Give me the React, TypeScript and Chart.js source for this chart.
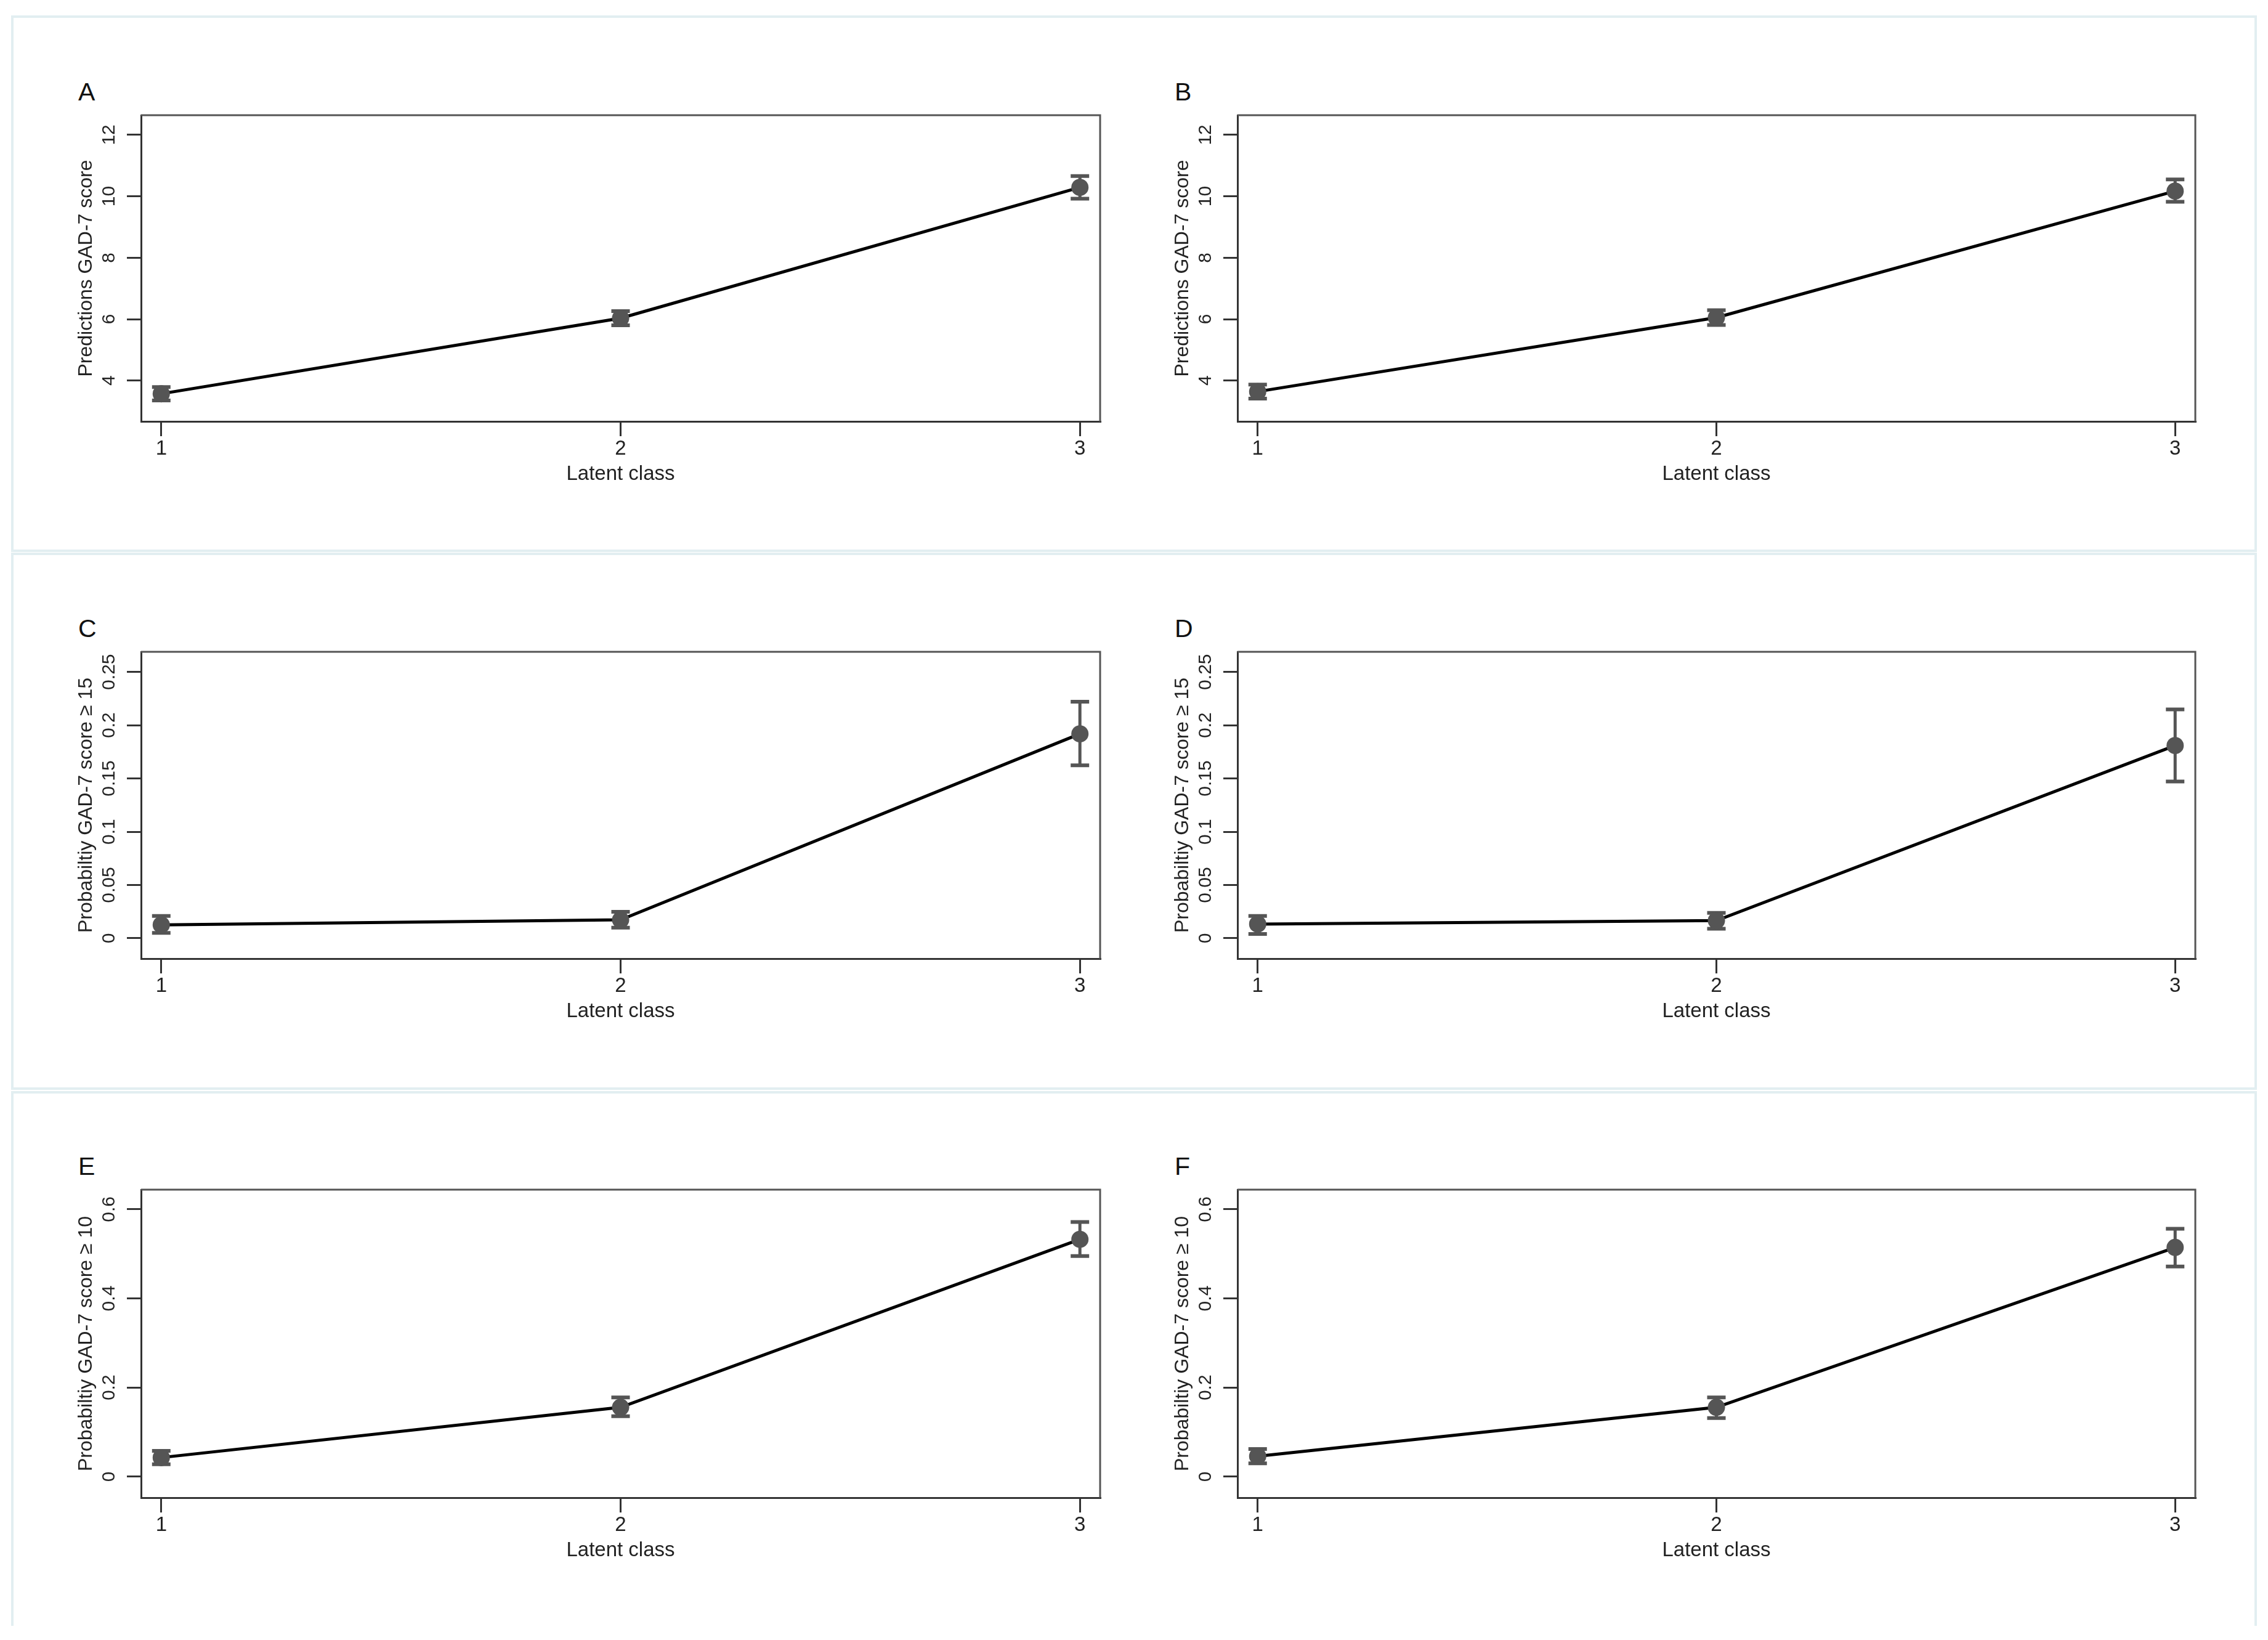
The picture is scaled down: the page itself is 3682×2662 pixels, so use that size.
import { useEffect, useRef } from "react";
import Chart from "chart.js/auto";

// latent classes on the x axis
const latentClass = [1, 2, 3];

// A / B: predicted GAD-7 score with 95% CI
const scoreA = [3.57, 6.03, 10.29];
const scoreLowA = [3.35, 5.8, 9.92];
const scoreHighA = [3.79, 6.26, 10.66];

const scoreB = [3.64, 6.05, 10.17];
const scoreLowB = [3.41, 5.81, 9.82];
const scoreHighB = [3.87, 6.29, 10.55];

// C / D: probability GAD-7 score >= 15
const prob15C = [0.0126, 0.0173, 0.1919];
const prob15LowC = [0.005, 0.01, 0.1624];
const prob15HighC = [0.0209, 0.0249, 0.2221];

const prob15D = [0.0133, 0.0166, 0.1809];
const prob15LowD = [0.004, 0.009, 0.1471];
const prob15HighD = [0.0209, 0.0239, 0.2148];

// E / F: probability GAD-7 score >= 10
const prob10E = [0.0429, 0.1556, 0.5325];
const prob10LowE = [0.028, 0.1357, 0.4952];
const prob10HighE = [0.058, 0.1778, 0.5714];

const prob10F = [0.046, 0.1556, 0.5143];
const prob10LowF = [0.03, 0.1317, 0.4714];
const prob10HighF = [0.062, 0.1778, 0.5563];

// y tick labels
const scoreTicks = [4, 6, 8, 10, 12];
const prob15Ticks = [0, 0.05, 0.1, 0.15, 0.2, 0.25];
const prob10Ticks = [0, 0.2, 0.4, 0.6];

const FONT = "'Liberation Sans', Arial, sans-serif";

// plot-area edges in page pixels
const COLS = [
    { left: 229, right: 1786 },
    { left: 2009, right: 3564 },
];
const ROWS = [
    { top: 187, bottom: 684 },
    { top: 1058, bottom: 1556 },
    { top: 1931, bottom: 2431 },
];

const AXIS_W = 130;
const XAXIS_H = 120;
const PAD_TOP = 80;
const PAD_RIGHT = 40;
const Y_TICK_LEN = 23;
const Y_TICK_SIZE = 30;

interface PanelSpec {
    letter: string;
    yTitle: string;
    values: number[];
    low: number[];
    high: number[];
    ticks: number[];
    min: number;
    max: number;
    col: number;
    row: number;
}

const panels: PanelSpec[] = [
    { letter: "A", yTitle: "Predictions GAD-7 score", values: scoreA, low: scoreLowA, high: scoreHighA, ticks: scoreTicks, min: 2.67, max: 12.64, col: 0, row: 0 },
    { letter: "B", yTitle: "Predictions GAD-7 score", values: scoreB, low: scoreLowB, high: scoreHighB, ticks: scoreTicks, min: 2.67, max: 12.64, col: 1, row: 0 },
    { letter: "C", yTitle: "Probabiltiy GAD-7 score \u2265 15", values: prob15C, low: prob15LowC, high: prob15HighC, ticks: prob15Ticks, min: -0.0191, max: 0.2689, col: 0, row: 1 },
    { letter: "D", yTitle: "Probabiltiy GAD-7 score \u2265 15", values: prob15D, low: prob15LowD, high: prob15HighD, ticks: prob15Ticks, min: -0.0191, max: 0.2689, col: 1, row: 1 },
    { letter: "E", yTitle: "Probabiltiy GAD-7 score \u2265 10", values: prob10E, low: prob10LowE, high: prob10HighE, ticks: prob10Ticks, min: -0.0471, max: 0.644, col: 0, row: 2 },
    { letter: "F", yTitle: "Probabiltiy GAD-7 score \u2265 10", values: prob10F, low: prob10LowF, high: prob10HighF, ticks: prob10Ticks, min: -0.0471, max: 0.644, col: 1, row: 2 },
];

// CI whiskers with caps, placed through the chart's scales
const errorBars = {
    id: "errorBars",
    beforeDatasetsDraw(chart: any, _args: any, opts: any) {
        const { ctx, scales } = chart;
        const low: number[] = opts.low;
        const high: number[] = opts.high;
        ctx.save();
        ctx.strokeStyle = "#555555";
        latentClass.forEach((c, i) => {
            const px = scales.x.getPixelForValue(c);
            const top = scales.y.getPixelForValue(high[i]);
            const bot = scales.y.getPixelForValue(low[i]);
            ctx.lineWidth = 5;
            ctx.beginPath();
            ctx.moveTo(px, top);
            ctx.lineTo(px, bot);
            ctx.stroke();
            ctx.lineWidth = 6;
            ctx.beginPath();
            ctx.moveTo(px - 15, top);
            ctx.lineTo(px + 15, top);
            ctx.moveTo(px - 15, bot);
            ctx.lineTo(px + 15, bot);
            ctx.stroke();
        });
        ctx.restore();
    },
};

// top and right edges of the plot region
const frame = {
    id: "frame",
    afterDraw(chart: any) {
        const { ctx, chartArea } = chart;
        ctx.save();
        ctx.strokeStyle = "#555555";
        ctx.lineWidth = 3;
        ctx.beginPath();
        ctx.moveTo(chartArea.left, chartArea.top);
        ctx.lineTo(chartArea.right, chartArea.top);
        ctx.lineTo(chartArea.right, chartArea.bottom);
        ctx.stroke();
        ctx.restore();
    },
};

function measureWidest(labels: string[], font: string) {
    const ctx = document.createElement("canvas").getContext("2d");
    if (!ctx) return 0;
    ctx.font = font;
    return Math.max(...labels.map((l) => ctx.measureText(l).width));
}

function Panel({ p }: { p: PanelSpec }) {
    const canvasRef = useRef<HTMLCanvasElement | null>(null);
    const chartRef = useRef<Chart | null>(null);

    const col = COLS[p.col];
    const row = ROWS[p.row];
    const boxLeft = col.left - AXIS_W;
    const boxTop = row.top - PAD_TOP;
    const boxW = col.right - col.left + AXIS_W + PAD_RIGHT;
    const boxH = row.bottom - row.top + PAD_TOP + XAXIS_H;

    useEffect(() => {
        if (!canvasRef.current) return;
        if (chartRef.current) { chartRef.current.destroy(); }

        const widest = measureWidest(p.ticks.map(String), `${Y_TICK_SIZE}px ${FONT}`);
        const yTickPad = 51 - Y_TICK_LEN - widest / 2;

        chartRef.current = new Chart(canvasRef.current, {
            type: "line",
            data: {
                datasets: [
                    {
                        data: latentClass.map((c, i) => ({ x: c, y: p.values[i] })),
                        borderColor: "#000000",
                        borderWidth: 5,
                        tension: 0,
                        pointRadius: 14,
                        pointBorderWidth: 0,
                        pointBackgroundColor: "#555555",
                        fill: false,
                    },
                ],
            },
            options: {
                responsive: true,
                maintainAspectRatio: false,
                animation: false,
                layout: { padding: { left: 0, right: PAD_RIGHT, top: PAD_TOP, bottom: 0 } },
                plugins: {
                    legend: { display: false },
                    tooltip: { enabled: false },
                    // @ts-ignore custom plugin options
                    errorBars: { low: p.low, high: p.high },
                },
                scales: {
                    x: {
                        type: "linear",
                        position: "bottom",
                        min: 0.956,
                        max: 3.044,
                        afterBuildTicks: (s: any) => { s.ticks = latentClass.map((v) => ({ value: v })); },
                        afterFit: (s: any) => { s.height = XAXIS_H; },
                        ticks: {
                            autoSkip: false,
                            padding: 1,
                            color: "#222222",
                            font: { family: FONT, size: 33 },
                            callback: (v: any) => String(v),
                        },
                        grid: {
                            drawOnChartArea: false,
                            drawTicks: true,
                            tickLength: 24,
                            color: "#333333",
                            lineWidth: 3,
                        },
                        border: { display: true, color: "#333333", width: 3 },
                        title: {
                            display: true,
                            text: "Latent class",
                            color: "#222222",
                            font: { family: FONT, size: 33 },
                            padding: { top: 0, bottom: 14 },
                        },
                    },
                    y: {
                        type: "linear",
                        min: p.min,
                        max: p.max,
                        afterBuildTicks: (s: any) => { s.ticks = p.ticks.map((v) => ({ value: v })); },
                        afterFit: (s: any) => { s.width = AXIS_W; },
                        ticks: {
                            autoSkip: false,
                            minRotation: 90,
                            maxRotation: 90,
                            crossAlign: "center",
                            padding: yTickPad,
                            color: "#222222",
                            font: { family: FONT, size: Y_TICK_SIZE },
                            callback: (v: any) => String(v),
                        },
                        grid: {
                            drawOnChartArea: false,
                            drawTicks: true,
                            tickLength: Y_TICK_LEN,
                            color: "#333333",
                            lineWidth: 3,
                        },
                        border: { display: true, color: "#333333", width: 3 },
                        title: {
                            display: true,
                            text: p.yTitle,
                            color: "#222222",
                            font: { family: FONT, size: 32 },
                            padding: { top: 22, bottom: 0 },
                        },
                    },
                },
            },
            plugins: [errorBars, frame],
        });

        return () => {
            if (chartRef.current) {
                chartRef.current.destroy();
                chartRef.current = null;
            }
        };
    }, [p]);

    return (
        <>
            <div
                style={{
                    position: "absolute",
                    left: col.left - 102,
                    top: row.top - 58,
                    fontFamily: FONT,
                    fontSize: 41,
                    lineHeight: "41px",
                    color: "#111111",
                }}
            >
                {p.letter}
            </div>
            <div style={{ position: "absolute", left: boxLeft, top: boxTop, width: boxW, height: boxH }}>
                <canvas ref={canvasRef} />
            </div>
        </>
    );
}

const rowBoxes = [
    { top: 25, bottom: 896, closed: true },
    { top: 897, bottom: 1769, closed: true },
    { top: 1771, bottom: 2639, closed: false },
];

export default function App() {
    return (
        <div
            style={{
                position: "absolute",
                left: 0,
                top: 0,
                width: 3682,
                height: 2662,
                background: "#ffffff",
                overflow: "hidden",
            }}
        >
            {rowBoxes.map((b, i) => (
                <div
                    key={i}
                    style={{
                        position: "absolute",
                        left: 18,
                        top: b.top,
                        width: 3664 - 18,
                        height: b.bottom - b.top,
                        boxSizing: "border-box",
                        border: "4px solid #e2eef1",
                        borderBottomWidth: b.closed ? 4 : 0,
                    }}
                />
            ))}
            {panels.map((p) => (
                <Panel key={p.letter} p={p} />
            ))}
        </div>
    );
}
